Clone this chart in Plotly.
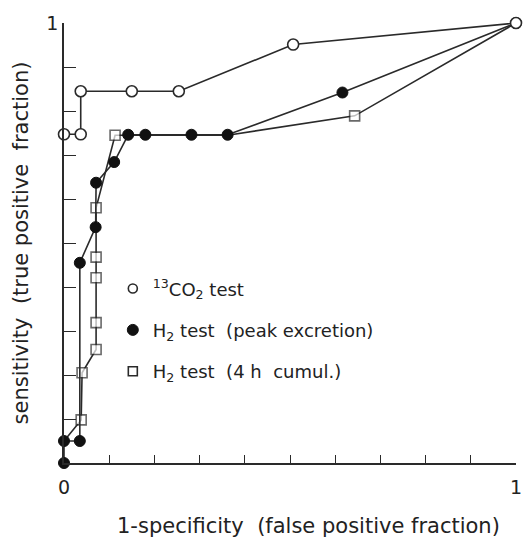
import plotly.graph_objects as go

# 13CO2 test (open circles)
co2_x = [0.0, 0.037, 0.037, 0.15, 0.254, 0.507, 1.0]
co2_y = [0.747, 0.747, 0.845, 0.845, 0.845, 0.951, 1.0]

# H2 test, peak excretion (filled circles)
peak_x = [0.0, 0.0, 0.035, 0.035, 0.07, 0.071, 0.111, 0.142, 0.18, 0.282, 0.362, 0.616, 1.0]
peak_y = [0.0, 0.05, 0.05, 0.455, 0.536, 0.637, 0.684, 0.746, 0.746, 0.746, 0.746, 0.842, 1.0]

# H2 test, 4 h cumulative (open squares)
cum_x = [0.0, 0.038, 0.040, 0.071, 0.071, 0.071, 0.071, 0.071, 0.113, 0.362, 0.643, 1.0]
cum_y = [0.05, 0.098, 0.205, 0.258, 0.319, 0.421, 0.468, 0.58, 0.745, 0.745, 0.789, 1.0]
cum_marker_shown = [0, 1, 1, 1, 1, 1, 1, 1, 1, 0, 1, 0]

legend_names = ["<sup>13</sup>CO<sub>2</sub> test",
                "H<sub>2</sub> test  (peak excretion)",
                "H<sub>2</sub> test  (4 h  cumul.)"]

tick_vals = [0.1 * i for i in range(11)]
x_tick_text = ["0"] + [""] * 9 + ["1"]
y_tick_text = [""] * 10 + ["1"]

x_title = "1-specificity  (false positive fraction)"
y_title = "sensitivity  (true positive  fraction)"

LINE = "#2a2a2a"
FONT = "DejaVu Sans"

fig = go.Figure()

fig.add_trace(go.Scatter(
    x=cum_x, y=cum_y, mode="lines+markers", showlegend=False, cliponaxis=False,
    line=dict(color=LINE, width=1.6),
    marker=dict(symbol="square", size=[10 * s for s in cum_marker_shown], color="white",
                line=dict(color=LINE, width=1.6)),
))
fig.add_trace(go.Scatter(
    x=peak_x, y=peak_y, mode="lines+markers", showlegend=False, cliponaxis=False,
    line=dict(color=LINE, width=1.6),
    marker=dict(symbol="circle", size=11, color="#111111", line=dict(color="#111111", width=1)),
))
fig.add_trace(go.Scatter(
    x=co2_x, y=co2_y, mode="lines+markers", showlegend=False, cliponaxis=False,
    line=dict(color=LINE, width=1.6),
    marker=dict(symbol="circle", size=11, color="white", line=dict(color=LINE, width=1.6)),
))

# legend-only entries (markers without lines)
leg_styles = [
    dict(symbol="circle", size=9, color="white", line=dict(color=LINE, width=1.6)),
    dict(symbol="circle", size=11, color="#111111", line=dict(color="#111111", width=1)),
    dict(symbol="square", size=9, color="white", line=dict(color=LINE, width=1.6)),
]
for i, (name, st) in enumerate(zip(legend_names, leg_styles)):
    fig.add_trace(go.Scatter(x=[None], y=[None], mode="markers", name=name,
                             legendgroup=f"g{i}", marker=st))

fig.add_annotation(text=x_title, xref="paper", yref="paper", x=0.541, y=0, yshift=-63,
                   xanchor="center", yanchor="middle", showarrow=False,
                   font=dict(size=21, color="#222222"))

fig.update_layout(
    width=531, height=540,
    margin=dict(l=64, r=9, t=23, b=77),
    paper_bgcolor="white", plot_bgcolor="white",
    font=dict(family=FONT, size=17, color="#222222"),
    legend=dict(x=0.108, y=0.438, xanchor="left", yanchor="top",
                traceorder="grouped", tracegroupgap=15,
                bgcolor="rgba(0,0,0,0)", font=dict(size=18, color="#222222"),
                itemwidth=30),
    xaxis=dict(range=[0, 1], showgrid=False, zeroline=False,
               showline=True, linecolor=LINE, linewidth=1.6,
               ticks="inside", ticklen=8, tickwidth=1.4, tickcolor=LINE,
               tickvals=tick_vals, ticktext=x_tick_text,
               tickfont=dict(size=19), ticklabelstandoff=6),
    yaxis=dict(range=[0, 1], showgrid=False, zeroline=False,
               showline=True, linecolor=LINE, linewidth=1.6,
               ticks="inside", ticklen=12, tickwidth=1.4, tickcolor=LINE,
               tickvals=tick_vals, ticktext=y_tick_text,
               tickfont=dict(size=19), ticklabelstandoff=0,
               title=dict(text=y_title, font=dict(size=21), standoff=12)),
)

fig.write_html("out.html")
